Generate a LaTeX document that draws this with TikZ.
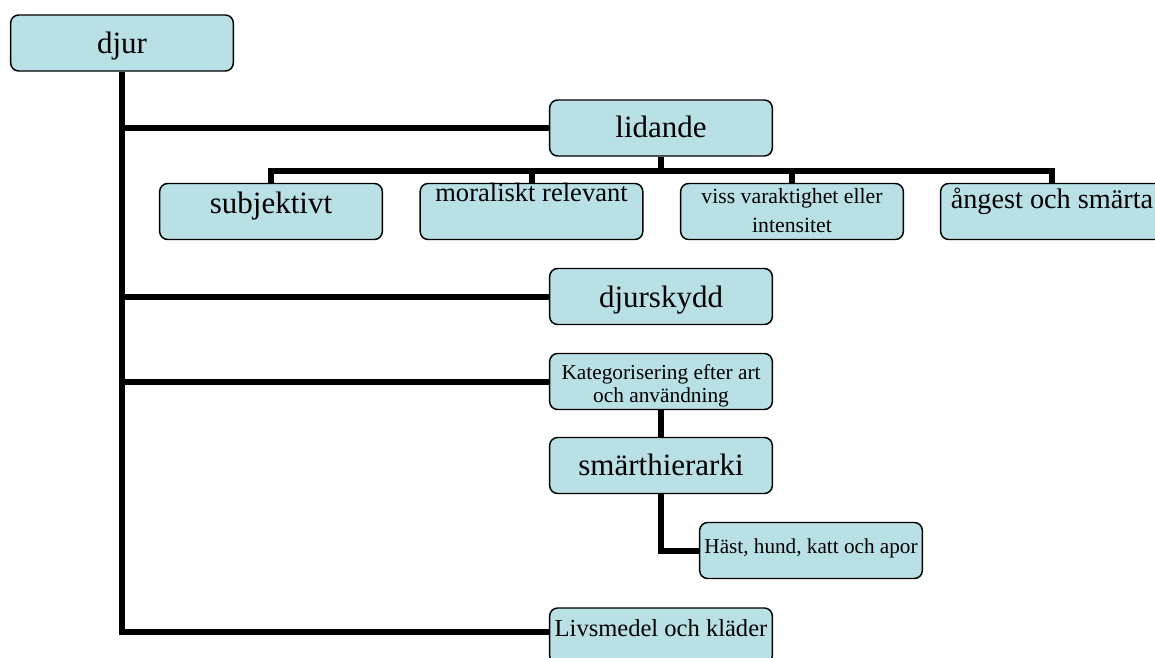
\documentclass[tikz,border=0pt]{standalone}
\usepackage{fontspec}
\setmainfont{Liberation Serif}
\usepackage{tikz}

\definecolor{boxfill}{RGB}{185,224,228}

\tikzset{
  box/.style={draw, line width=1.1pt, rounded corners=6pt, fill=boxfill,
    minimum width=167pt, minimum height=42pt, inner sep=0pt, align=center},
  link/.style={line width=4.5pt},
  bigtxt/.style={font=\fontsize{23.25}{28}\selectfont},
}

\begin{document}
\begin{tikzpicture}[x=0.75pt, y=-0.75pt]
\useasboundingbox (0,0) rectangle (1155,657);

%% boxes
\node[box, bigtxt, text height=28.5pt, text depth=13.5pt] (djur) at (122,43) {djur};   %% root
\node[box, bigtxt, text height=27.75pt, text depth=14.25pt] (lid) at (661,128) {lidande};
\node[box, bigtxt, text height=22.5pt, text depth=19.5pt] (subj) at (271,211.5) {subjektivt};
\node[box, font=\fontsize{19.9}{24}\selectfont, text height=13.5pt, text depth=28.5pt] (moral) at (531.5,211.5) {moraliskt relevant};
\node[box, font=\fontsize{16.3}{21.75}\selectfont, text height=36.4pt, text depth=5.6pt] (viss) at (792,211.5) {viss varaktighet eller\\intensitet};
\node[box, font=\fontsize{21.2}{25}\selectfont, text height=18.75pt, text depth=23.25pt] (ang) at (1052,211.5) {ångest och smärta};
\node[box, bigtxt, text height=29.25pt, text depth=12.75pt] (skydd) at (661,296.5) {djurskydd};
\node[box, font=\fontsize{16}{17.2}\selectfont, text height=36.6pt, text depth=5.4pt] (kat) at (661,381.5) {Kategorisering efter art\\och användning};
\node[box, bigtxt, text height=28.5pt, text depth=13.5pt] (smart) at (661,465.5) {smärthierarki};
\node[box, font=\fontsize{15.9}{19}\selectfont, text height=23.25pt, text depth=18.75pt] (hast) at (811,550.5) {Häst, hund, katt och apor};
\node[box, font=\fontsize{18.4}{22}\selectfont, text height=21pt, text depth=21pt] (liv) at (661,636) {Livsmedel och kläder};

%% trunk and branches
\draw[link] (djur.south) |- ([yshift=3pt]liv.west);   %% djur - liv
\draw[link] (djur.south |- lid.west) -- (lid.west);   %% djur - lid
\draw[link] (djur.south |- skydd.west) -- (skydd.west);   %% djur - skydd
\draw[link] (djur.south |- kat.west) -- (kat.west);   %% djur - kat

%% under lidande
\draw[link] (lid.south) -- ++(0,14) -| (subj.north);
\draw[link] (lid.south) -- ++(0,14) -| (moral.north);
\draw[link] (lid.south) -- ++(0,14) -| (viss.north);
\draw[link] (lid.south) -- ++(0,14) -| (ang.north);

%% under kategorisering
\draw[link] (kat.south) -- (smart.north);
\draw[link] (smart.south) |- (hast.west);
\end{tikzpicture}
\end{document}
